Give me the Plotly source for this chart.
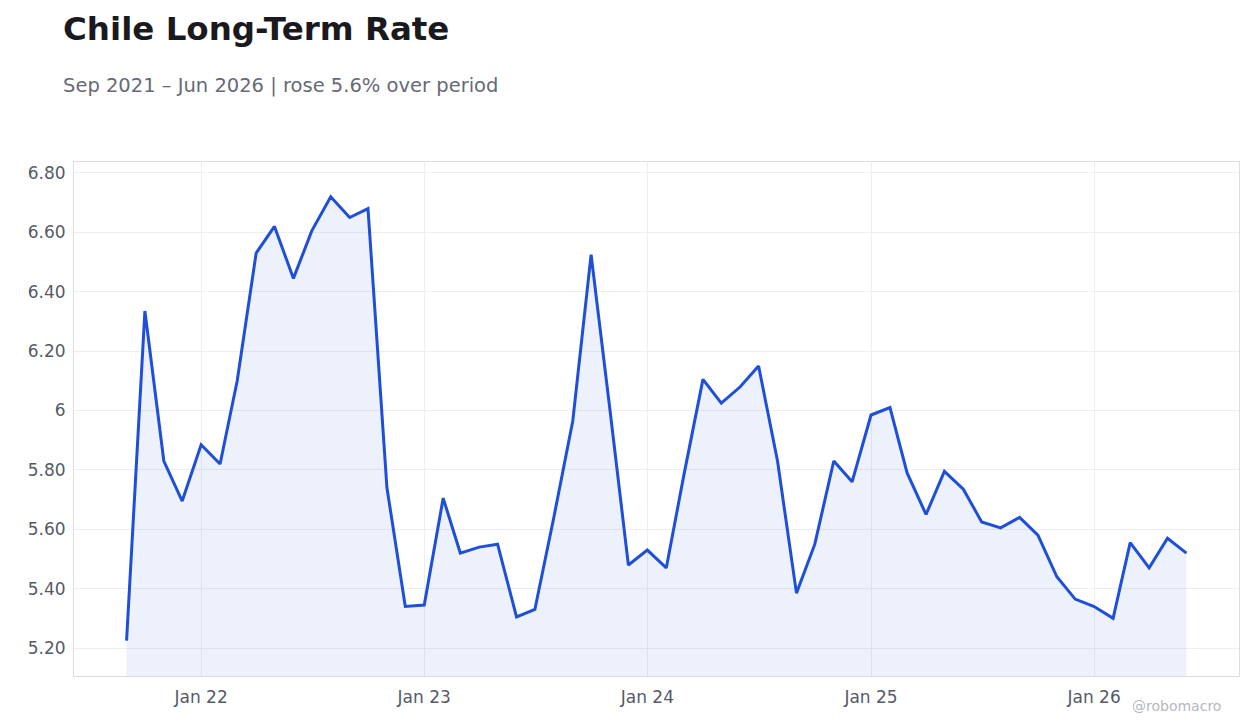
import pandas as pd
import plotly.graph_objects as go

dates = pd.date_range("2021-09-01", "2026-06-01", freq="MS")
values = [5.225, 6.335, 5.83, 5.695, 5.885, 5.82, 6.10, 6.53, 6.62, 6.445, 6.605, 6.72,
          6.65, 6.68, 5.74, 5.34, 5.345, 5.705, 5.52, 5.54, 5.55, 5.305, 5.33, 5.64,
          5.965, 6.525, 6.0, 5.48, 5.53, 5.47, 5.785, 6.105, 6.025, 6.08, 6.15, 5.83,
          5.385, 5.55, 5.83, 5.76, 5.985, 6.01, 5.79, 5.65, 5.795, 5.735, 5.625, 5.605,
          5.64, 5.58, 5.44, 5.365, 5.34, 5.30, 5.555, 5.47, 5.57, 5.52]
ytickvals = [5.2, 5.4, 5.6, 5.8, 6.0, 6.2, 6.4, 6.6, 6.8]
yticktext = ["5.20", "5.40", "5.60", "5.80", "6", "6.20", "6.40", "6.60", "6.80"]
xtickvals = ["2022-01-01", "2023-01-01", "2024-01-01", "2025-01-01", "2026-01-01"]
xticktext = ["Jan 22", "Jan 23", "Jan 24", "Jan 25", "Jan 26"]

fig = go.Figure(go.Scatter(
    x=dates, y=values, mode="lines",
    line=dict(color="#1f4fd8", width=3),
    fill="tozeroy", fillcolor="rgba(31,79,216,0.08)",
))
font = "DejaVu Sans"
fig.update_layout(
    width=1260, height=728, paper_bgcolor="white", plot_bgcolor="white",
    margin=dict(l=66, r=29, t=154, b=60),
    showlegend=False,
    font=dict(family=font, color="#555a66", size=15),
    annotations=[
        dict(text="<b>Chile Long-Term Rate</b>", xref="paper", yref="paper",
             x=0, xshift=-13, y=1.0, yshift=133, xanchor="left", yanchor="middle", showarrow=False,
             font=dict(size=32.5, color="#1a1a1e")),
        dict(text="Sep 2021 – Jun 2026 | rose 5.6% over period", xref="paper", yref="paper",
             x=0, xshift=-13, y=1.0, yshift=77, xanchor="left", yanchor="middle", showarrow=False,
             font=dict(size=19.5, color="#666a75")),
        dict(text="@robomacro", xref="paper", yref="paper", x=1, xshift=-16, y=0, yshift=-40,
             xanchor="right", yanchor="bottom", showarrow=False,
             font=dict(size=14, color="#b5b8bf")),
    ],
)
fig.update_xaxes(range=["2021-06-07", "2026-08-26"], tickvals=xtickvals, ticktext=xticktext,
                 showgrid=True, gridcolor="#eeeeef", showline=True, linecolor="#dddde0",
                 mirror=True, ticks="", tickfont=dict(size=17), ticklabelstandoff=6)
fig.update_yaxes(range=[5.106, 6.837], tickvals=ytickvals, ticktext=yticktext,
                 showgrid=True, gridcolor="#eeeeef", showline=True, linecolor="#dddde0",
                 mirror=True, zeroline=False, tickfont=dict(size=17), ticklabelstandoff=4)
fig.write_html("out.html")
